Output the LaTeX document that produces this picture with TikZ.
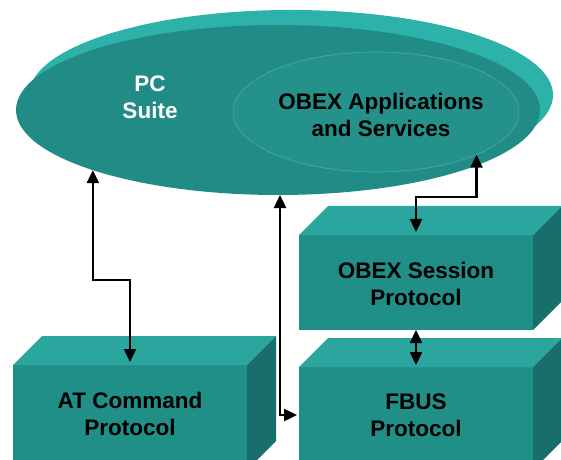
\documentclass[tikz,border=0pt]{standalone}
\usepackage{fontspec}
\setmainfont{Liberation Sans}
\usetikzlibrary{shapes.geometric,arrows.meta,calc}
\definecolor{boxfront}{RGB}{32,143,136}
\definecolor{boxtop}{RGB}{43,166,158}
\definecolor{boxside}{RGB}{24,110,106}
\definecolor{tealmain}{RGB}{33,140,133}
\definecolor{rim}{RGB}{45,178,169}
\definecolor{innerfill}{RGB}{36,146,139}
\definecolor{innerline}{RGB}{62,172,164}
\begin{document}
\begin{tikzpicture}[x=1bp,y=-1bp,
  face/.style={fill=boxfront, draw=none, minimum width=234bp, inner sep=0pt, outer sep=0pt},
  topface/.style={fill=boxtop},
  sideface/.style={fill=boxside},
  lbl/.style={font=\bfseries\fontsize{22.5bp}{27bp}\selectfont, align=center, text=black, inner sep=0pt},
  arr/.style={line width=2.4bp, {Triangle[length=13bp,width=12bp]}-{Triangle[length=13bp,width=12bp]}}]
\useasboundingbox (0,0) rectangle (561,460);
\clip (0,0) rectangle (561,460);

% big ellipse (PC Suite) with 3D rim
\fill[rim] (291,95) ellipse [x radius=262bp, y radius=85bp];
\node[ellipse, fill=tealmain, minimum width=524bp, minimum height=170bp, inner sep=0pt, outer sep=0pt] (pc) at (278,110) {};
\node[ellipse, fill=innerfill, draw=innerline, line width=0.7bp, minimum width=286bp, minimum height=120bp, inner sep=0pt, outer sep=0pt] (app) at (376,112) {};

% boxes
\node[face, minimum height=105bp] (at) at (130,417.5) {};
\fill[topface] (at.north west) -- ++(29,-29) -- ++(234,0) -- (at.north east) -- cycle;
\fill[sideface] (at.north east) -- ++(29,-29) -- ++(0,105) -- (at.south east) -- cycle;

\node[face, minimum height=95bp] (ses) at (416,282.5) {};
\fill[topface] (ses.north west) -- ++(29,-29) -- ++(234,0) -- (ses.north east) -- cycle;
\fill[sideface] (ses.north east) -- ++(29,-29) -- ++(0,95) -- (ses.south east) -- cycle;

\node[face, minimum height=103bp] (fb) at (416,418.5) {};
\fill[topface] (fb.north west) -- ++(29,-29) -- ++(234,0) -- (fb.north east) -- cycle;
\fill[sideface] (fb.north east) -- ++(29,-29) -- ++(0,103) -- (fb.south east) -- cycle;

% labels
\node[lbl, text=white] (pct) at (150,97) {PC\\Suite};
\node[lbl] (appt) at (381,115) {OBEX Applications\\and Services};
\node[lbl] (sest) at (416,284) {OBEX Session\\Protocol};
\node[lbl] (fbt) at (416,415) {FBUS\\Protocol};
\node[lbl] (att) at (130,414) {AT Command\\Protocol};

% connectors
\coordinate (k1) at (0,280);
\coordinate (k3) at (0,197);
\draw[arr] (pc.198.4) |- (at.north |- k1) -- ([yshift=3bp]at.north);
\draw[arr] (app.337.6) |- (ses.north |- k3) -- ([yshift=3bp]ses.north);
\draw[arr] (ses.south) -- ([yshift=2bp]fb.north);
\draw[arr] ([xshift=2bp]pc.south) |- ([xshift=-2bp]fb.west |- fbt.center);
\end{tikzpicture}
\end{document}
